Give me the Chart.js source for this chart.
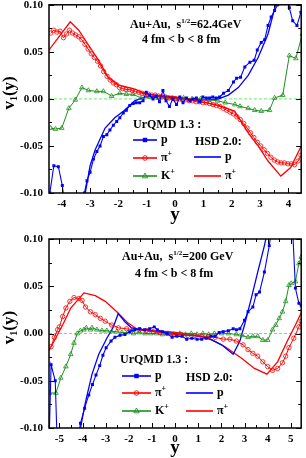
<!DOCTYPE html>
<html>
<head>
<meta charset="utf-8">
<script src="https://cdn.jsdelivr.net/npm/chart.js@4.4.0/dist/chart.umd.min.js"></script>
<style>
html,body{margin:0;padding:0;background:#fff;}
#wrap{position:relative;width:306px;height:458px;}
canvas{position:absolute;left:0;}
#c1{top:0;}
#c2{top:229px;}
</style>
</head>
<body>
<div id="wrap">
<canvas id="c1" width="306" height="229"></canvas>
<canvas id="c2" width="306" height="229"></canvas>
</div>
<script>
// ---- axis ranges / ticks ----
var xRange62 = [-4.45, 4.45];
var xRange200 = [-5.45, 5.45];
var vRange = [-0.10, 0.10];
var vStep = 0.05;

// ---- 62.4 GeV : UrQMD p ----
var y62_pU = [-4.42,-4.28,-4.12,-3.98,-3.85,-3.35,-3.20,-3.11,-3.00,-2.88,-2.76,-2.65,-2.53,-2.41,-2.30,-2.18,-2.06,-1.95,-1.83,-1.72,-1.60,-1.48,-1.37,-1.25,-1.13,-1.02,-0.90,-0.78,-0.67,-0.55,-0.43,-0.32,-0.20,-0.08,0.05,0.17,0.28,0.40,0.52,0.63,0.75,0.87,0.98,1.10,1.22,1.33,1.45,1.57,1.71,1.88,2.06,2.17,2.31,2.46,2.64,2.79,2.90,3.04,3.16,3.28,3.39,3.51,3.62,3.75,3.95,4.03,4.15,4.30,4.44];
var v62_pU = [-0.100,-0.071,-0.072,-0.092,-0.125,-0.125,-0.100,-0.087,-0.078,-0.064,-0.056,-0.050,-0.040,-0.038,-0.033,-0.028,-0.024,-0.020,-0.015,-0.012,-0.007,-0.005,-0.004,-0.004,-0.002,0.007,0.004,0.000,0.003,-0.003,0.009,-0.002,-0.008,0.000,-0.006,0.002,-0.004,0.001,-0.002,0.000,0.001,-0.003,0.002,0.001,0.001,0.002,0.001,0.002,0.006,0.009,0.018,0.022,0.023,0.034,0.039,0.041,0.052,0.060,0.063,0.078,0.087,0.094,0.100,0.125,0.125,0.097,0.083,0.078,0.092];
// ---- 62.4 GeV : UrQMD pi+ ----
var y62_piU = [-4.39,-4.28,-4.17,-4.06,-3.94,-3.83,-3.73,-3.62,-3.51,-3.40,-3.29,-3.18,-3.07,-2.96,-2.85,-2.74,-2.63,-2.52,-2.40,-2.29,-2.18,-2.07,-1.96,-1.85,-1.73,-1.62,-1.51,-1.40,-1.28,-1.17,-1.05,-0.94,-0.82,-0.70,-0.58,-0.46,-0.34,-0.22,-0.10,0.02,0.14,0.26,0.38,0.50,0.62,0.74,0.86,0.98,1.10,1.22,1.34,1.46,1.58,1.70,1.82,1.94,2.06,2.18,2.30,2.42,2.54,2.66,2.78,2.90,3.02,3.14,3.26,3.38,3.50,3.62,3.74,3.86,3.98,4.10,4.22,4.34,4.44];
var v62_piU = [0.070,0.073,0.071,0.072,0.065,0.069,0.073,0.070,0.068,0.066,0.063,0.058,0.053,0.048,0.044,0.040,0.035,0.029,0.024,0.020,0.017,0.015,0.012,0.011,0.010,0.010,0.009,0.008,0.007,0.006,0.005,0.005,0.004,0.004,0.003,0.002,0.002,0.001,0.001,0.000,0.000,-0.001,-0.001,-0.002,-0.002,-0.003,-0.003,-0.004,-0.004,-0.005,-0.006,-0.007,-0.008,-0.010,-0.012,-0.014,-0.016,-0.019,-0.022,-0.026,-0.031,-0.036,-0.041,-0.046,-0.050,-0.054,-0.058,-0.062,-0.065,-0.067,-0.068,-0.068,-0.069,-0.069,-0.070,-0.066,-0.060];
// ---- 62.4 GeV : UrQMD K+ ----
var y62_kU = [-4.39,-4.22,-4.00,-3.75,-3.52,-3.29,-3.06,-2.76,-2.53,-2.24,-1.95,-1.72,-1.49,-1.20,-0.90,-0.60,-0.30,0.00,0.30,0.60,0.90,1.20,1.50,1.77,2.11,2.29,2.58,2.81,3.04,3.33,3.51,3.80,4.03,4.26,4.49];
var v62_kU = [-0.031,-0.032,-0.031,-0.010,-0.001,0.012,0.009,0.008,0.008,0.003,0.006,0.005,0.005,0.001,0.002,0.001,0.001,0.000,0.001,0.000,0.000,-0.001,-0.002,-0.004,-0.006,-0.008,-0.010,-0.012,-0.013,-0.012,0.001,0.004,0.046,0.043,0.069];
// ---- 62.4 GeV : HSD p ----
var y62_pH = [-3.30,-3.17,-3.00,-2.82,-2.47,-2.13,-1.78,-1.43,-1.08,-0.70,-0.30,0.10,0.50,0.90,1.20,1.53,1.88,2.23,2.58,2.93,3.28,3.52,3.70];
var v62_pH = [-0.115,-0.100,-0.071,-0.054,-0.031,-0.020,-0.012,-0.002,0.002,0.003,0.002,0.001,0.000,-0.001,-0.001,0.000,0.004,0.012,0.025,0.044,0.069,0.097,0.120];
// ---- 62.4 GeV : HSD pi+ ----
var y62_piH = [-4.45,-3.70,-3.40,-3.05,-2.70,-2.36,-2.00,-1.43,-1.08,-0.73,0.00,0.80,1.53,2.10,2.58,2.93,3.28,3.73,4.08,4.45];
var v62_piH = [0.052,0.082,0.073,0.057,0.041,0.023,0.015,0.0105,0.006,0.004,0.002,-0.002,-0.007,-0.013,-0.036,-0.050,-0.066,-0.082,-0.073,-0.050];

// ---- 200 GeV : UrQMD p ----
var y200_pU = [-5.45,-5.36,-5.18,-5.08,-4.30,-4.09,-3.91,-3.73,-3.57,-3.42,-3.26,-3.12,-2.98,-2.77,-2.60,-2.38,-2.17,-1.96,-1.74,-1.53,-1.32,-1.10,-0.90,-0.77,-0.55,-0.35,-0.13,0.08,0.30,0.50,0.72,0.95,1.15,1.35,1.55,1.73,1.90,2.08,2.30,2.51,2.65,2.80,3.00,3.15,3.36,3.50,3.65,3.86,4.07,4.25,5.05,5.20,5.35,5.45];
var v200_pU = [-0.120,-0.033,-0.050,-0.130,-0.130,-0.095,-0.079,-0.065,-0.054,-0.044,-0.034,-0.023,-0.015,-0.008,-0.004,-0.002,-0.001,0.002,0.004,0.005,0.004,0.005,0.007,0.004,0.002,0.000,-0.004,-0.003,-0.003,-0.006,-0.005,-0.006,-0.006,-0.005,-0.003,-0.003,0.001,0.002,0.003,0.005,0.004,0.005,0.014,0.023,0.028,0.041,0.044,0.065,0.093,0.125,0.125,0.048,0.032,0.030];
// ---- 200 GeV : UrQMD pi+ ----
var y200_piU = [-5.36,-5.22,-5.08,-5.00,-4.86,-4.72,-4.55,-4.37,-4.16,-4.02,-3.87,-3.66,-3.45,-3.23,-3.02,-2.74,-2.45,-2.10,-1.80,-1.55,-1.25,-0.95,-0.65,-0.35,-0.05,0.25,0.55,0.85,1.15,1.45,1.73,2.08,2.37,2.65,2.94,3.15,3.36,3.57,3.79,4.00,4.21,4.43,4.64,4.78,4.92,5.13,5.35,5.45];
var v200_piU = [-0.014,-0.004,0.004,0.007,0.018,0.027,0.034,0.038,0.037,0.035,0.028,0.023,0.020,0.016,0.013,0.009,0.006,0.005,0.004,0.004,0.003,0.002,0.001,0.000,-0.001,-0.001,-0.002,-0.002,-0.003,-0.003,-0.004,-0.006,-0.006,-0.008,-0.012,-0.017,-0.021,-0.024,-0.030,-0.035,-0.039,-0.037,-0.031,-0.024,-0.015,-0.005,0.007,0.013];
// ---- 200 GeV : UrQMD K+ ----
var y200_kU = [-5.43,-5.15,-4.94,-4.72,-4.51,-4.37,-4.23,-4.09,-3.94,-3.84,-3.66,-3.59,-3.38,-3.16,-2.95,-2.74,-2.52,-2.30,-2.05,-1.80,-1.55,-1.30,-1.05,-0.80,-0.55,-0.30,-0.05,0.20,0.45,0.70,0.95,1.20,1.45,1.70,2.01,2.30,2.65,2.90,3.15,3.36,3.57,3.79,4.00,4.21,4.35,4.50,4.64,4.78,4.92,5.02,5.20,5.35,5.45];
var v200_kU = [-0.063,-0.063,-0.047,-0.035,-0.022,-0.010,0.000,0.003,0.004,0.006,0.004,0.006,0.004,0.003,0.003,0.002,0.002,0.001,0.001,0.000,0.001,0.000,0.000,0.000,-0.001,0.000,-0.001,0.000,-0.001,0.000,-0.001,0.000,-0.001,0.000,0.000,0.000,-0.001,-0.002,-0.004,-0.003,-0.003,-0.007,-0.007,0.004,0.009,0.016,0.023,0.034,0.051,0.053,0.055,0.074,0.081];
// ---- 200 GeV : HSD p ----
var y200_pH = [-4.20,-4.09,-3.87,-3.59,-3.30,-2.95,-2.67,-2.46,-2.17,-1.89,-1.45,-0.90,-0.30,0.30,0.70,1.16,1.60,2.01,2.51,2.80,3.00,3.29,3.57,3.86,4.05];
var v200_pH = [-0.115,-0.100,-0.072,-0.043,-0.022,-0.005,0.007,0.021,0.0125,0.006,0.004,0.002,0.001,-0.001,-0.002,-0.003,-0.007,-0.012,-0.022,-0.008,0.009,0.037,0.065,0.093,0.115];
// ---- 200 GeV : HSD pi+ ----
var y200_piH = [-5.45,-4.86,-4.51,-3.94,-3.45,-3.02,-2.52,-2.03,-1.60,-1.03,-0.30,0.40,1.45,2.16,2.86,3.43,3.97,4.43,4.85,5.20,5.45];
var v200_piH = [-0.018,0.009,0.027,0.043,0.040,0.034,0.023,0.011,0.004,0.003,0.002,0.000,-0.005,-0.014,-0.026,-0.037,-0.043,-0.030,-0.008,0.009,0.022];

var BLUE = '#0000ff', RED = '#ff0000', GREEN = '#1f8f1f', ZERO = '#66ee66';
var FAM = '"Liberation Serif", "Times New Roman", serif';
function fnt(sz){ return 'bold ' + sz + 'px ' + FAM; }

function pts(xs, vs){
  return xs.map(function(x, i){ return {x: x, y: vs[i]}; });
}

// draws a run of text pieces (with sub/superscripts), left aligned
function rich(ctx, parts, x, y){
  var cx = x;
  parts.forEach(function(p){
    ctx.font = fnt(p.s || 12);
    ctx.fillText(p.t, cx, y + (p.dy || 0));
    cx += ctx.measureText(p.t).width;
  });
  return cx;
}
function richWidth(ctx, parts){
  var w = 0;
  parts.forEach(function(p){ ctx.font = fnt(p.s || 12); w += ctx.measureText(p.t).width; });
  return w;
}

function marker(ctx, style, color, x, y){
  ctx.save();
  ctx.strokeStyle = color; ctx.fillStyle = color; ctx.lineWidth = 0.9;
  ctx.beginPath();
  if (style === 'rect') { ctx.fillRect(x - 2.2, y - 2.2, 4.4, 4.4); }
  else if (style === 'circle') { ctx.arc(x, y, 2.3, 0, Math.PI * 2); ctx.stroke(); }
  else { ctx.moveTo(x, y - 3); ctx.lineTo(x + 2.7, y + 1.8); ctx.lineTo(x - 2.7, y + 1.8); ctx.closePath(); ctx.stroke(); }
  ctx.restore();
}

var framePlugin = {
  id: 'frame',
  afterDatasetsDraw: function(chart){
    var ctx = chart.ctx, a = chart.chartArea, sx = chart.scales.x, sy = chart.scales.y;
    var o = chart.options.plugins.frame;
    ctx.save();
    ctx.strokeStyle = '#000';
    ctx.lineWidth = 1;
    ctx.beginPath();
    var v, px, len;
    for (v = Math.ceil(sx.min * 2) / 2; v <= sx.max + 1e-9; v += 0.5) {
      px = Math.round(sx.getPixelForValue(v)) + 0.5;
      len = Math.abs(v - Math.round(v)) < 1e-6 ? 5 : 3;
      ctx.moveTo(px, a.bottom); ctx.lineTo(px, a.bottom - len);
      ctx.moveTo(px, a.top); ctx.lineTo(px, a.top + len);
    }
    for (v = sy.min; v <= sy.max + 1e-9; v += 0.025) {
      px = Math.round(sy.getPixelForValue(v)) + 0.5;
      len = Math.abs(v / 0.05 - Math.round(v / 0.05)) < 1e-6 ? 5 : 3;
      ctx.moveTo(a.left, px); ctx.lineTo(a.left + len, px);
      ctx.moveTo(a.right, px); ctx.lineTo(a.right - len, px);
    }
    ctx.stroke();
    ctx.lineWidth = 1.5;
    ctx.strokeRect(a.left, a.top, a.right - a.left, a.bottom - a.top);

    ctx.fillStyle = '#000';
    ctx.textBaseline = 'middle';
    ctx.textAlign = 'left';
    // title lines
    rich(ctx, o.title, o.titleX, o.titleY);
    rich(ctx, [{t: '4 fm < b < 8 fm'}], o.subX, o.titleY + o.subDy);

    // axis titles
    ctx.font = fnt(19);
    ctx.textAlign = 'center';
    ctx.fillText('y', 175, o.yTitleY);
    ctx.textAlign = 'left';
    var vt = [{t: 'v', s: 17}, {t: '1', s: 10, dy: 4}, {t: '(y)', s: 17}];
    ctx.save();
    ctx.translate(10, sy.getPixelForValue(0) - 6);
    ctx.rotate(-Math.PI / 2);
    rich(ctx, vt, -richWidth(ctx, vt) / 2, 0);
    ctx.restore();

    // legends
    var L = o.leg;
    rich(ctx, [{t: 'UrQMD 1.3 :'}], L.ux, L.uy);
    var items = [
      {c: BLUE, st: 'rect', lab: [{t: 'p'}]},
      {c: RED, st: 'circle', lab: [{t: 'π', s: 12}, {t: '+', s: 8, dy: -4}]},
      {c: GREEN, st: 'tri', lab: [{t: 'K', s: 12}, {t: '+', s: 8, dy: -4}]}
    ];
    items.forEach(function(it, i){
      var yy = L.urows[i];
      ctx.strokeStyle = it.c; ctx.lineWidth = 1.6;
      ctx.beginPath(); ctx.moveTo(L.lx0, yy); ctx.lineTo(L.lx1, yy); ctx.stroke();
      marker(ctx, it.st, it.c, (L.lx0 + L.lx1) / 2, yy);
      ctx.fillStyle = '#000';
      rich(ctx, it.lab, L.lx1 + 4, yy);
    });
    rich(ctx, [{t: 'HSD 2.0:'}], L.hx, L.hy);
    [items[0], items[1]].forEach(function(it, i){
      var yy = L.hrows[i];
      ctx.strokeStyle = it.c; ctx.lineWidth = 1.6;
      ctx.beginPath(); ctx.moveTo(L.hx0, yy); ctx.lineTo(L.hx1, yy); ctx.stroke();
      ctx.fillStyle = '#000';
      rich(ctx, it.lab, L.hx1 + 4, yy);
    });
    ctx.restore();
  }
};

function makeChart(id, xr, series, padTop, xH, frameOpts){
  var datasets = [
    {data: pts(series.pU[0], series.pU[1]), borderColor: BLUE, borderWidth: 1.1, pointStyle: 'rect', pointRadius: 2.1, pointBackgroundColor: BLUE, pointBorderColor: BLUE, pointBorderWidth: 0},
    {data: pts(series.piU[0], series.piU[1]), borderColor: RED, borderWidth: 1, pointStyle: 'circle', pointRadius: 2.2, pointBackgroundColor: 'rgba(255,255,255,0)', pointBorderColor: RED, pointBorderWidth: 0.8},
    {data: pts(series.kU[0], series.kU[1]), borderColor: GREEN, borderWidth: 1, pointStyle: 'triangle', pointRadius: 2.7, pointBackgroundColor: 'rgba(255,255,255,0)', pointBorderColor: GREEN, pointBorderWidth: 0.8},
    {data: pts(series.pH[0], series.pH[1]), borderColor: BLUE, borderWidth: 1.3, pointRadius: 0},
    {data: pts(series.piH[0], series.piH[1]), borderColor: RED, borderWidth: 1.3, pointRadius: 0},
    {data: pts(xr, [0, 0]), borderColor: ZERO, borderWidth: 1, borderDash: [3, 2], pointRadius: 0}
  ];
  datasets.forEach(function(d){ d.showLine = true; d.tension = 0; d.fill = false; d.clip = 0; });

  return new Chart(document.getElementById(id), {
    type: 'scatter',
    data: {datasets: datasets},
    options: {
      responsive: false,
      animation: false,
      events: [],
      layout: {padding: {left: 0, right: 2, top: padTop, bottom: 0}},
      plugins: {legend: {display: false}, tooltip: {enabled: false}, frame: frameOpts},
      scales: {
        x: {
          type: 'linear', min: xr[0], max: xr[1],
          grid: {display: false, drawTicks: false}, border: {display: false},
          ticks: {stepSize: 1, includeBounds: false, padding: 5, color: '#000',
                  font: {family: FAM, size: 11, weight: 'bold'},
                  callback: function(v){ return String(Math.round(v)); }},
          afterFit: function(s){ s.height = xH; s.paddingLeft = 0; s.paddingRight = 0; }
        },
        y: {
          type: 'linear', min: vRange[0], max: vRange[1],
          grid: {display: false, drawTicks: false}, border: {display: false},
          ticks: {stepSize: vStep, includeBounds: false, padding: 6, color: '#000',
                  font: {family: FAM, size: 11, weight: 'bold'},
                  callback: function(v){ return (Math.abs(v) < 1e-9 ? 0 : v).toFixed(2); }},
          afterFit: function(s){ s.width = 49; s.paddingTop = 0; s.paddingBottom = 0; }
        }
      }
    },
    plugins: [framePlugin]
  });
}

makeChart('c1', xRange62, {
  pU: [y62_pU, v62_pU], piU: [y62_piU, v62_piU], kU: [y62_kU, v62_kU],
  pH: [y62_pH, v62_pH], piH: [y62_piH, v62_piH]
}, 4, 36, {
  title: [{t: 'Au+Au,  s'}, {t: '1/2', s: 7, dy: -4}, {t: '=62.4GeV'}],
  titleX: 130, titleY: 25, subX: 142, subDy: 15, yTitleY: 215,
  leg: {ux: 133, uy: 125, urows: [140, 158, 176], lx0: 133, lx1: 157,
        hx: 195, hy: 142, hrows: [157, 176], hx0: 194, hx1: 221}
});

makeChart('c2', xRange200, {
  pU: [y200_pU, v200_pU], piU: [y200_piU, v200_piU], kU: [y200_kU, v200_kU],
  pH: [y200_pH, v200_pH], piH: [y200_piH, v200_piH]
}, 10, 30, {
  title: [{t: 'Au+Au,  s'}, {t: '1/2', s: 7, dy: -4}, {t: '=200 GeV'}],
  titleX: 122, titleY: 28, subX: 135, subDy: 17, yTitleY: 219,
  leg: {ux: 120, uy: 131, urows: [147, 164, 182], lx0: 122, lx1: 151,
        hx: 186, hy: 149, hrows: [164, 182], hx0: 186, hx1: 213}
});
</script>
</body>
</html>
